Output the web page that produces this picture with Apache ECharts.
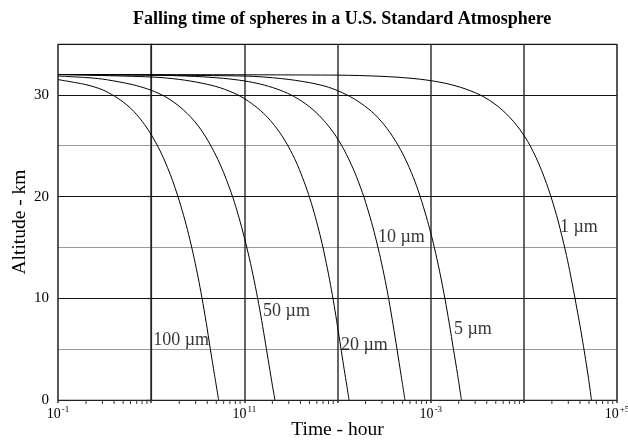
<!DOCTYPE html>
<html>
<head>
<meta charset="utf-8">
<script src="https://cdn.jsdelivr.net/npm/echarts@6/dist/echarts.min.js"></script>
<style>html,body{margin:0;padding:0;background:#fff}#c{width:628px;height:442px}</style>
</head>
<body>
<div id="c"></div>
<script>
// ---- data (time in hours, altitude in km) ----
const titleText = 'Falling time of spheres in a U.S. Standard Atmosphere';
const xName = 'Time - hour';
const yName = 'Altitude - km';
const sizes = ['100 µm', '50 µm', '20 µm', '10 µm', '5 µm', '1 µm'];

const t100 = [0.1, 0.2, 0.3, 0.4, 0.5, 0.6, 0.7, 0.8, 0.9, 1.0, 1.2, 1.4, 1.6, 1.8, 2.0, 2.3, 2.6, 2.9, 3.2, 3.5, 3.9, 4.3, 4.78, 5.3];
const a100 = [31.5, 31.0, 30.5, 29.9, 29.3, 28.7, 28.05, 27.4, 26.75, 26.1, 24.8, 23.5, 22.2, 20.9, 19.6, 17.7, 15.8, 13.9, 12.0, 10.1, 7.6, 5.1, 2.5, 0];

const t50 = [0.1, 0.2, 0.3, 0.5, 0.7, 1.0, 1.4, 1.8, 2.2, 2.7, 3.2, 3.8, 4.4, 5.2, 6.0, 6.8, 7.6, 8.6, 9.6, 10.6, 12.0, 13.5, 15.0, 16.5, 18.0, 19.7, 21.3];
const a50 = [31.85, 31.7, 31.55, 31.2, 30.9, 30.45, 29.85, 29.2, 28.55, 27.75, 26.95, 25.95, 24.95, 23.65, 22.35, 21.05, 19.8, 18.2, 16.6, 15.05, 12.9, 10.6, 8.35, 6.1, 4.0, 1.8, 0];

const t20 = [0.1, 1, 2, 3.5, 5.5, 8.5, 12, 16, 20, 25, 30, 36, 42, 49, 56, 63, 70, 78, 86, 94, 102, 110, 118, 126, 133];
const a20 = [32, 31.76, 31.52, 31.15, 30.7, 30.0, 29.15, 28.2, 27.25, 26.05, 24.85, 23.4, 21.9, 20.2, 18.45, 16.7, 14.95, 12.9, 10.85, 8.8, 6.75, 4.8, 3.0, 1.4, 0];

const t10 = [0.1, 1, 3, 6, 10, 15, 22, 31.6, 45, 60, 75, 92, 112, 135, 160, 193, 225, 255, 290, 325, 355, 395, 436, 482, 530];
const a10 = [32, 31.94, 31.81, 31.62, 31.37, 31.05, 30.6, 30.0, 29.15, 28.2, 27.25, 26.2, 24.95, 23.5, 21.95, 19.9, 17.9, 16.05, 13.9, 11.75, 9.9, 7.4, 4.95, 2.4, 0];

const t5 = [0.1, 10, 25, 50, 80, 126, 180, 250, 340, 450, 560, 680, 772, 900, 1000, 1095, 1250, 1420, 1585, 1755, 1945, 2140];
const a5 = [32, 31.85, 31.6, 31.2, 30.75, 30.0, 29.15, 28.1, 26.7, 25.0, 23.3, 21.45, 20.0, 18.0, 16.45, 15.0, 12.6, 10.0, 7.5, 5.0, 2.5, 0];

const t1 = [0.1, 100, 300, 600, 1000, 1500, 2100, 2700, 3388, 4300, 5300, 6500, 7800, 9000, 10300, 11700, 13500, 15500, 17500, 19300, 21500, 23500, 25500, 28000, 31000, 34000, 37000, 40000, 43000, 46000, 49500, 53200];
const a1 = [32, 31.94, 31.82, 31.64, 31.4, 31.1, 30.74, 30.38, 30.0, 29.45, 28.85, 28.13, 27.35, 26.63, 25.85, 25.0, 23.85, 22.57, 21.3, 20.15, 18.75, 17.5, 16.2, 14.65, 12.75, 10.85, 9.05, 7.35, 5.65, 4.0, 2.1, 0];

// label anchors (left-middle of each curve label)
const labelT = [1.05, 15.9, 109, 272, 1778, 24430];
const labelA = [5.9, 8.7, 5.4, 16.0, 7.0, 17.0];

// x tick labels (decade exponent -> superscript text)
const xTickExp = [-1, 1, 3, 5];
const xTickSup = ['-1', '11', '-3', '+5'];
// minor tick multipliers within each decade
const minorMult = [2, 3, 4, 5, 6, 7, 8, 9];

// ---- build ----
const curvesT = [t100, t50, t20, t10, t5, t1];
const curvesA = [a100, a50, a20, a10, a5, a1];
const lg = v => Math.log10(v);

const lineSeries = curvesT.map((ts, i) => ({
  type: 'line',
  name: sizes[i],
  data: ts.map((t, j) => [lg(t), curvesA[i][j]]),
  showSymbol: false,
  smooth: 0.3,
  lineStyle: { color: '#000', width: 1 },
  z: 3
}));

const minorData = [];
for (let e = -1; e < 5; e++) {
  minorMult.forEach(m => minorData.push([lg(m * Math.pow(10, e))]));
}

const serif = '"Liberation Serif", "DejaVu Serif", serif';

const option = {
  animation: false,
  backgroundColor: '#fff',
  title: {
    text: titleText,
    left: 128,
    top: 5,
    textStyle: { fontFamily: serif, fontWeight: 'bold', fontSize: 18, color: '#000' }
  },
  grid: {
    left: 58, right: 11, top: 44, bottom: 42,
    outerBoundsMode: 'none',
    containLabel: false,
    show: true, borderColor: '#888', borderWidth: 1
  },
  xAxis: {
    type: 'value',
    min: -1, max: 5, interval: 1,
    name: xName,
    nameLocation: 'middle',
    nameGap: 20,
    nameMoveOverlap: false,
    nameTextStyle: { fontFamily: serif, fontSize: 19.5, color: '#000' },
    axisLine: { show: true, lineStyle: { color: '#222', width: 1.2 } },
    axisTick: { show: true, length: 3, inside: false, lineStyle: { color: '#333', width: 1.5 } },
    splitLine: { show: true, lineStyle: { color: '#333', width: 1.5 } },
    axisLabel: {
      margin: 5,
      showMinLabel: true, showMaxLabel: true,
      formatter: v => {
        const k = xTickExp.indexOf(Math.round(v));
        return k < 0 ? '' : '{b|10}{s|' + xTickSup[k] + '}';
      },
      rich: {
        b: { fontFamily: serif, fontSize: 14, color: '#000', lineHeight: 16, verticalAlign: 'bottom' },
        s: { fontFamily: serif, fontSize: 9, color: '#000', lineHeight: 16, verticalAlign: 'top', padding: [0, 0, 6, 1] }
      }
    }
  },
  yAxis: {
    type: 'value',
    min: 0, max: 35, interval: 10,
    name: yName,
    nameLocation: 'middle',
    nameGap: 28,
    nameRotate: 90,
    nameMoveOverlap: false,
    nameTextStyle: { fontFamily: serif, fontSize: 19.5, color: '#000' },
    axisLine: { show: true, lineStyle: { color: '#222', width: 1.2 } },
    axisTick: { show: true, length: 5, lineStyle: { color: '#222', width: 1.2 } },
    splitLine: { show: true, lineStyle: { color: '#111', width: 1.2 } },
    minorTick: { show: false, splitNumber: 2 },
    minorSplitLine: { show: true, lineStyle: { color: '#999', width: 1 } },
    axisLabel: {
      margin: 9,
      showMaxLabel: false,
      fontFamily: serif, fontSize: 15, color: '#000',
      formatter: v => (v % 10 === 0 ? String(v) : '')
    }
  },
  series: lineSeries.concat([
    {
      type: 'scatter',
      data: labelT.map((t, i) => [lg(t), labelA[i], sizes[i]]),
      symbolSize: 0,
      label: {
        show: true, position: 'right', distance: 0,
        formatter: p => p.data[2],
        fontFamily: serif, fontSize: 18, color: '#000'
      },
      z: 4
    },
    {
      type: 'custom',
      data: minorData,
      clip: false,
      renderItem: (params, api) => {
        const p = api.coord([api.value(0), 0]);
        return {
          type: 'line',
          shape: { x1: p[0], y1: p[1], x2: p[0], y2: p[1] + 4 },
          style: { stroke: '#333', lineWidth: 1 }
        };
      },
      encode: { x: 0 },
      z: 2
    }
  ])
};

const chart = echarts.init(document.getElementById('c'), null, { renderer: 'canvas' });
chart.setOption(option);
</script>
</body>
</html>
